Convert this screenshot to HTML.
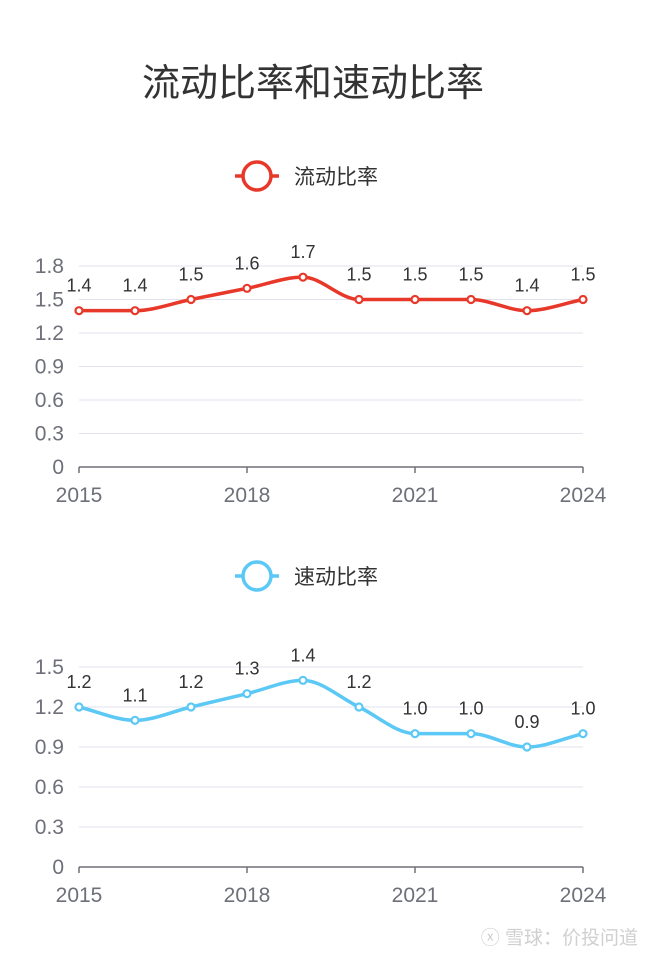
<!DOCTYPE html>
<html><head><meta charset="utf-8"><style>
body{margin:0;background:#fff;width:650px;height:956px;overflow:hidden;font-family:"Liberation Sans","Noto Sans CJK SC",sans-serif}
</style></head><body>
<svg id="s" width="650" height="956" xmlns="http://www.w3.org/2000/svg">
<text x="313" y="96" text-anchor="middle" font-size="38" fill="#333" font-family="Liberation Sans,Noto Sans CJK SC,sans-serif">流动比率和速动比率</text>
<text x="638" y="944" text-anchor="end" font-size="19" fill="#d0d0d0" font-family="Liberation Sans,Noto Sans CJK SC,sans-serif">ⓧ 雪球：价投问道</text>
</svg>
<script>
const years=[2015,2016,2017,2018,2019,2020,2021,2022,2023,2024];
const currentRatio=[1.4,1.4,1.5,1.6,1.7,1.5,1.5,1.5,1.4,1.5];
const quickRatio=[1.2,1.1,1.2,1.3,1.4,1.2,1.0,1.0,0.9,1.0];
const ticks1=[0,0.3,0.6,0.9,1.2,1.5,1.8];
const ticks2=[0,0.3,0.6,0.9,1.2,1.5];
const xTicks=[2015,2018,2021,2024];
const svg=document.getElementById('s');const NS='http://www.w3.org/2000/svg';
function mk(t,a,p){const e=document.createElementNS(NS,t);for(const k in a)e.setAttribute(k,a[k]);(p||svg).appendChild(e);return e;}
function chart(o){
 const g=mk('g',{});
 
 
 const x=v=>79+(v-years[0])*(583-79)/(years[years.length-1]-years[0]);
 const ymax=o.ticks[o.ticks.length-1];
 const y=v=>o.y0-v/ymax*(o.y0-o.ytop);
 o.ticks.forEach(t=>{
  if(t>0){const l=mk('line',{x1:79,x2:583,y1:y(t),y2:y(t),stroke:'#e0e3ee','stroke-width':1},g);
  }
  const tx=mk('text',{x:64,y:y(t)+7,'text-anchor':'end','font-size':21,fill:'#6e7079'},g);tx.textContent=String(t);
  
 });
 const ax=mk('line',{x1:79,x2:583,y1:o.y0,y2:o.y0,stroke:'#6e7079','stroke-width':1.5},g);
 
 xTicks.forEach(t=>{
  mk('line',{x1:x(t),x2:x(t),y1:o.y0,y2:o.y0+6,stroke:'#6e7079','stroke-width':1.5},g);
  const tx=mk('text',{x:x(t),y:o.y0+35,'text-anchor':'middle','font-size':21,fill:'#6e7079'},g);tx.textContent=t;
  
 });
 const P=years.map((yr,i)=>[x(yr),y(o.data[i])]);
 const n=P.length,d=[],m=[];
 for(let i=0;i<n-1;i++)d.push((P[i+1][1]-P[i][1])/(P[i+1][0]-P[i][0]));
 for(let i=0;i<n;i++){if(i==0)m.push(d[0]);else if(i==n-1)m.push(d[n-2]);else m.push(d[i-1]*d[i]<=0?0:(d[i-1]+d[i])/2);}
 let s='M'+P[0][0]+','+P[0][1];
 for(let i=0;i<n-1;i++){const h=(P[i+1][0]-P[i][0])/3;
  s+=' C'+(P[i][0]+h)+','+(P[i][1]+m[i]*h)+' '+(P[i+1][0]-h)+','+(P[i+1][1]-m[i+1]*h)+' '+P[i+1][0]+','+P[i+1][1];}
 const ln=mk('path',{d:s,fill:'none',stroke:o.color,'stroke-width':3.5},g);
 
 P.forEach((p,i)=>{
  const c=mk('circle',{cx:p[0],cy:p[1],r:3.5,fill:'#fff',stroke:o.color,'stroke-width':2.2},g);
  
  const t=mk('text',{x:p[0],y:p[1]-19,'text-anchor':'middle','font-size':18,fill:'#333'},g);t.textContent=o.data[i].toFixed(1);
  
 });
 const lg=mk('g',{},g);
 
 mk('line',{x1:235,x2:279,y1:o.ly,y2:o.ly,stroke:o.color,'stroke-width':3.5},lg);
 mk('circle',{cx:257,cy:o.ly,r:14,fill:'#fff',stroke:o.color,'stroke-width':3.5},lg);
 const lt=mk('text',{x:294,y:o.ly+8,'font-size':21,fill:'#333'},lg);lt.textContent=o.label;
}
chart({name:'current-ratio',data:currentRatio,ticks:ticks1,y0:467,ytop:266,color:'#e8382a',ly:176,label:'流动比率'});
chart({name:'quick-ratio',data:quickRatio,ticks:ticks2,y0:867,ytop:667,color:'#5bc8f5',ly:576,label:'速动比率'});
</script>
</body></html>
